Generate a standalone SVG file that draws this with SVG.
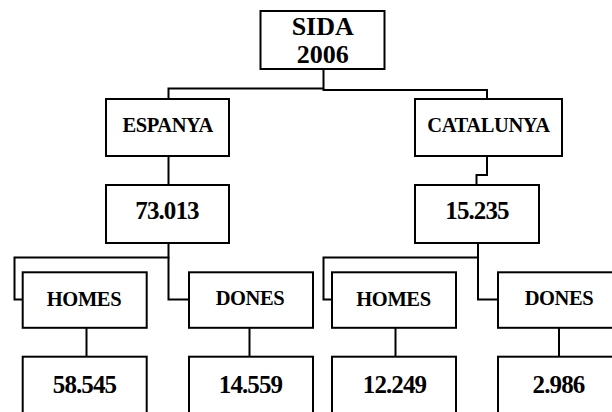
<svg xmlns="http://www.w3.org/2000/svg" width="612" height="412" viewBox="0 0 612 412">
<style>
rect{fill:#fff;stroke:#000;stroke-width:2}
.c path{fill:none;stroke:#000;stroke-width:2}
text{font-family:"Liberation Serif","Times New Roman",serif;font-weight:bold;text-anchor:middle;fill:#000}
.t{font-size:26px}
.l{font-size:20.5px;letter-spacing:-0.4px}
.n{font-size:25px;letter-spacing:-0.9px}
</style>
<rect x="0" y="0" width="612" height="412" style="stroke:none"/>
<g class="c">
<path d="M323.5 69 V88.5 H168.5 V99"/>
<path d="M323.5 88.5 V90 H487 V99"/>
<path d="M168.5 156 V185"/>
<path d="M487 156 V175 H476.5 V185"/>
<path d="M168.5 243 V257.5 H14.5 V299.5 H22.7"/>
<path d="M168.5 257 V299.5 H189"/>
<path d="M478 243 V257.5 H323.5 V299.5 H332"/>
<path d="M478 257 V299.5 H498"/>
<path d="M86.5 328 V357"/>
<path d="M249.5 328 V357"/>
<path d="M395.5 328 V357"/>
<path d="M559 328 V357"/>
</g>
<g id="sida"><rect x="260.5" y="11" width="124" height="58"/><text class="t" x="322.7" y="35">SIDA</text><text class="t" x="322.7" y="63.3">2006</text></g>
<g id="espanya"><rect x="106" y="99" width="123" height="57"/><text class="l" x="167.7" y="132.3">ESPANYA</text></g>
<g id="catalunya"><rect x="415" y="99" width="147" height="57"/><text class="l" x="488.5" y="132.3">CATALUNYA</text></g>
<g id="esp-total"><rect x="106" y="185" width="123" height="58"/><text class="n" x="167" y="219">73.013</text></g>
<g id="cat-total"><rect x="415" y="185" width="124" height="58"/><text class="n" x="477" y="218.5">15.235</text></g>
<g id="esp-homes"><rect x="22.7" y="272.3" width="124" height="55.5"/><text class="l" x="84" y="305.5">HOMES</text></g>
<g id="esp-dones"><rect x="189" y="272.3" width="124" height="55.5"/><text class="l" x="250" y="304.5">DONES</text></g>
<g id="cat-homes"><rect x="332" y="272.3" width="124" height="55.5"/><text class="l" x="393.5" y="305.5">HOMES</text></g>
<g id="cat-dones"><rect x="498" y="272.3" width="124" height="55.5"/><text class="l" x="559" y="305">DONES</text></g>
<g id="esp-homes-n"><rect x="22.7" y="356.7" width="124" height="62"/><text class="n" x="84.5" y="392.7">58.545</text></g>
<g id="esp-dones-n"><rect x="189" y="356.7" width="124" height="62"/><text class="n" x="250.5" y="392.7">14.559</text></g>
<g id="cat-homes-n"><rect x="332" y="356.7" width="124" height="62"/><text class="n" x="394.5" y="392.7">12.249</text></g>
<g id="cat-dones-n"><rect x="498" y="356.7" width="124" height="62"/><text class="n" x="558.5" y="392.7">2.986</text></g>
</svg>
